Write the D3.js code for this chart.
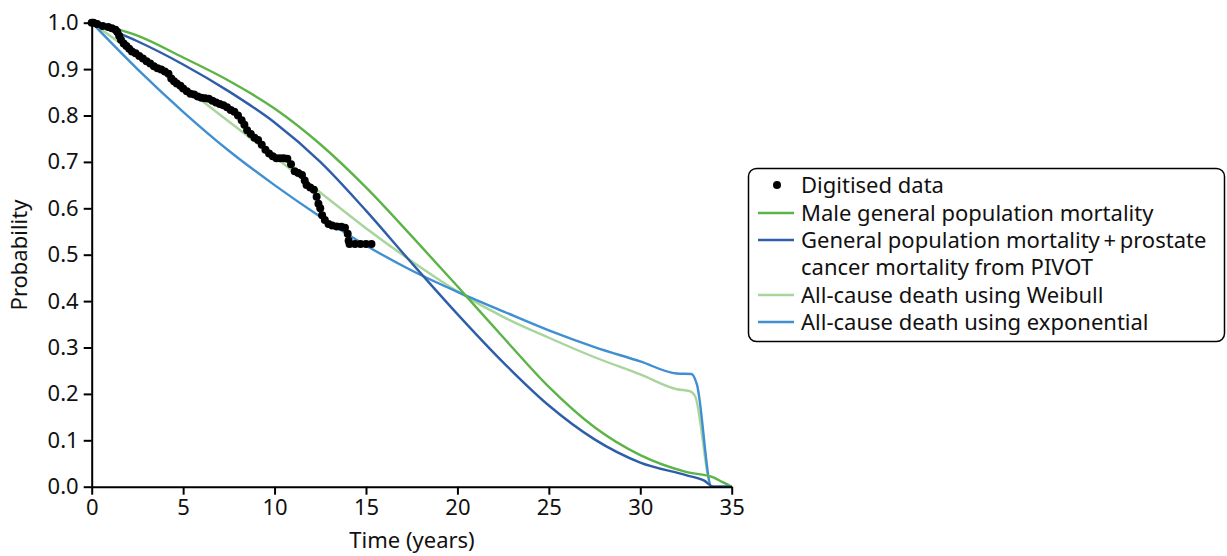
<!DOCTYPE html>
<html>
<head>
<meta charset="utf-8">
<script src="https://cdn.jsdelivr.net/npm/d3@7"></script>
<style>
  body { margin: 0; background: #fff; }
  svg text { font-family: "Noto Sans", "Open Sans", sans-serif; fill: #111; }
  .axis path, .axis line { stroke: #000; stroke-width: 2px; }
  .axis text { font-size: 22px; }
</style>
</head>
<body>
<svg id="chart" width="1227" height="556"></svg>
<script>
var digitTime = [0.0, 0.1, 0.3, 0.6, 0.9, 1.1, 1.3, 1.4, 1.5, 1.6, 1.75, 1.9, 2.05, 2.2, 2.4, 2.6, 2.8, 3.0, 3.2, 3.4, 3.6,
  3.8, 4.0, 4.2, 4.35, 4.5, 4.65, 4.85, 5.0, 5.2, 5.4, 5.6, 5.8, 6.0, 6.2, 6.4, 6.6, 6.8, 7.0, 7.2, 7.4,
  7.6, 7.8, 8.0, 8.2, 8.35, 8.5, 8.7, 8.9, 9.1, 9.3, 9.5, 9.7, 9.9, 10.1, 10.3, 10.5, 10.7, 10.9, 11.1, 11.3,
  11.5, 11.65, 11.75, 11.95, 12.15, 12.3, 12.4, 12.5, 12.6, 12.75, 12.95, 13.15, 13.4, 13.65, 13.85, 14.0, 14.05, 14.1, 14.4, 14.7,
  15.0, 15.3];
var digitProb = [1.000, 1.000, 0.997, 0.993, 0.991, 0.988, 0.985, 0.980, 0.972, 0.963, 0.955, 0.950, 0.944, 0.938, 0.934, 0.928, 0.923, 0.917, 0.912, 0.906, 0.902,
  0.899, 0.895, 0.890, 0.880, 0.874, 0.869, 0.864, 0.858, 0.852, 0.847, 0.845, 0.841, 0.838, 0.837, 0.836, 0.832, 0.828, 0.825, 0.822, 0.818,
  0.812, 0.808, 0.800, 0.790, 0.780, 0.768, 0.760, 0.752, 0.747, 0.737, 0.726, 0.718, 0.712, 0.708, 0.708, 0.708, 0.707, 0.695, 0.680, 0.676,
  0.672, 0.660, 0.650, 0.645, 0.640, 0.625, 0.610, 0.600, 0.585, 0.575, 0.566, 0.563, 0.561, 0.560, 0.558, 0.545, 0.530, 0.523, 0.523, 0.523,
  0.523, 0.523];

// modelled curves
var maleTime = [0, 2.5, 5, 7.5, 10, 12.5, 15, 17.5, 20, 22.5, 25, 27.5, 30, 32.5, 34, 34.5, 35];
var maleProb = [1.0, 0.972, 0.925, 0.875, 0.815, 0.738, 0.645, 0.540, 0.432, 0.322, 0.215, 0.128, 0.068, 0.032, 0.020, 0.010, 0.0];

var pivotTime = [0, 2.5, 5, 7.5, 10, 12.5, 15, 17.5, 20, 22.5, 25, 27.5, 30, 32.5, 33.5, 34, 35];
var pivotProb = [1.0, 0.960, 0.910, 0.852, 0.785, 0.700, 0.595, 0.482, 0.372, 0.268, 0.175, 0.102, 0.052, 0.025, 0.013, 0.0, 0.0];

var weibTime = [0, 2.5, 5, 7.5, 10, 12.5, 15, 17.5, 20, 22.5, 25, 27.5, 30, 32, 32.7, 33.0, 33.9, 35];
var weibProb = [1.0, 0.930, 0.862, 0.787, 0.711, 0.634, 0.557, 0.486, 0.421, 0.366, 0.321, 0.279, 0.242, 0.210, 0.206, 0.195, 0.0, 0.0];

var expTime = [0, 2.5, 5, 7.5, 10, 12.5, 15, 17.5, 20, 22.5, 25, 27.5, 30, 32, 32.8, 33.1, 33.9, 35];
var expProb = [1.0, 0.900, 0.808, 0.724, 0.650, 0.582, 0.520, 0.466, 0.420, 0.378, 0.337, 0.301, 0.270, 0.244, 0.243, 0.220, 0.0, 0.0];

var seriesNames = ["Male general population mortality",
  "General population mortality\u2009+\u2009prostate", "All-cause death using Weibull", "All-cause death using exponential"];
var xTicks = [0, 5, 10, 15, 20, 25, 30, 35];
var yTicks = [0, 0.1, 0.2, 0.3, 0.4, 0.5, 0.6, 0.7, 0.8, 0.9, 1.0];

var svg = d3.select("#chart"),
    margin = { top: 22.7, left: 91.7 },
    width = 640,
    height = 464;

var x = d3.scaleLinear().domain([0, 35]).range([0, width]),
    y = d3.scaleLinear().domain([0, 1]).range([height, 0]);

var g = svg.append("g")
    .attr("transform", "translate(" + margin.left + "," + margin.top + ")");

var line = d3.line()
    .curve(d3.curveMonotoneX)
    .x(function (d) { return x(d[0]); })
    .y(function (d) { return y(d[1]); });

var series = [
  { t: weibTime, p: weibProb, color: "#a8d59c" },
  { t: expTime, p: expProb, color: "#3f8fd2" },
  { t: maleTime, p: maleProb, color: "#5cb346" },
  { t: pivotTime, p: pivotProb, color: "#2e5daa" }
];

series.forEach(function (s) {
  g.append("path")
      .datum(d3.zip(s.t, s.p))
      .attr("fill", "none")
      .attr("stroke", s.color)
      .attr("stroke-width", 2.4)
      .attr("d", line);
});

g.selectAll(".dot")
    .data(d3.zip(digitTime, digitProb))
  .enter().append("circle")
    .attr("class", "dot")
    .attr("cx", function (d) { return x(d[0]); })
    .attr("cy", function (d) { return y(d[1]); })
    .attr("r", 4)
    .attr("fill", "#000");

g.append("g")
    .attr("class", "axis")
    .attr("transform", "translate(0," + height + ")")
    .call(d3.axisBottom(x).tickValues(xTicks).tickSize(8).tickSizeOuter(0).tickPadding(5));

g.append("g")
    .attr("class", "axis")
    .call(d3.axisLeft(y).tickValues(yTicks).tickFormat(d3.format(".1f")).tickSize(8).tickSizeOuter(0).tickPadding(5));

g.selectAll(".axis .domain").attr("stroke-width", 2.2);

svg.append("text")
    .attr("x", 412)
    .attr("y", 548)
    .attr("text-anchor", "middle")
    .attr("font-size", 22)
    .text("Time (years)");

svg.append("text")
    .attr("transform", "translate(27,255) rotate(-90)")
    .attr("text-anchor", "middle")
    .attr("font-size", 22)
    .text("Probability");

// legend
var legend = svg.append("g");
legend.append("rect")
    .attr("x", 748.5).attr("y", 168.5)
    .attr("width", 476).attr("height", 173)
    .attr("rx", 8)
    .attr("fill", "#fff")
    .attr("stroke", "#000")
    .attr("stroke-width", 1.5);

legend.append("circle").attr("cx", 777).attr("cy", 185).attr("r", 4).attr("fill", "#000");
legend.append("text").attr("x", 801).attr("y", 193).attr("font-size", 22).text("Digitised data");

var legendRows = [
  { name: seriesNames[0], color: "#5cb346", y: 213 },
  { name: seriesNames[1], color: "#2e5daa", y: 240 },
  { name: seriesNames[2], color: "#a8d59c", y: 295 },
  { name: seriesNames[3], color: "#3f8fd2", y: 322 }
];
legendRows.forEach(function (r) {
  legend.append("line")
      .attr("x1", 758).attr("x2", 794)
      .attr("y1", r.y).attr("y2", r.y)
      .attr("stroke", r.color).attr("stroke-width", 2.4);
  legend.append("text").attr("x", 801).attr("y", r.y + 8).attr("font-size", 22).text(r.name);
});
legend.append("text").attr("x", 801).attr("y", 275).attr("font-size", 22).text("cancer mortality from PIVOT");
</script>
</body>
</html>
